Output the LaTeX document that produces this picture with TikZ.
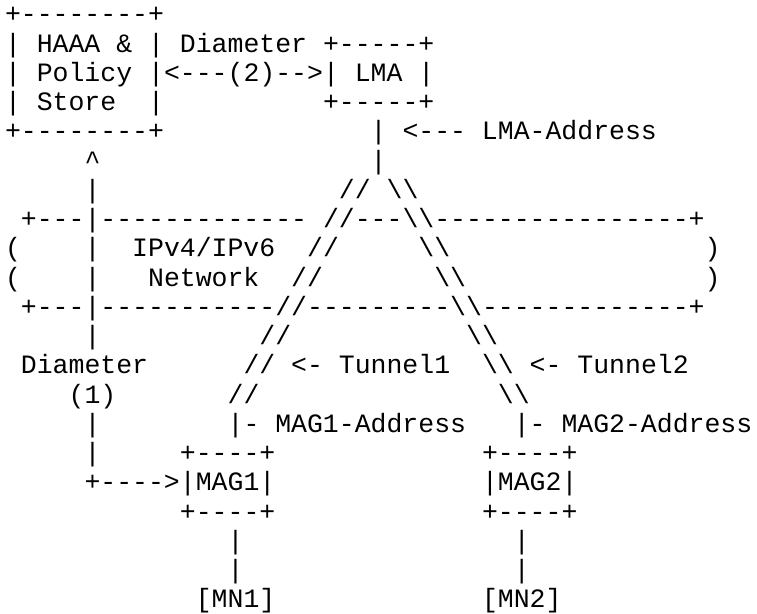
\documentclass[tikz,border=0pt]{standalone}
\usepackage{fontspec}
\setmonofont{Liberation Mono}
\tikzset{cell/.style={anchor=base west,inner sep=0pt,outer sep=0pt,
  font=\ttfamily\fontsize{26.5}{29.25}\selectfont}}

\begin{document}
\begin{tikzpicture}[x=15.9pt,y=-29.25pt]
\useasboundingbox (-0.3145,-0.7863) rectangle (47.296,20.205);

% HAAA & Policy Store
\node[cell] (haaatop) at (0,0) {+--------+};
\node[cell] (haaa) at (0,1) {| HAAA \& |};
\node[cell] (policy) at (0,2) {| Policy |};
\node[cell] (store) at (0,3) {| Store};
\node[cell] (storeedge) at (9,3) {|};
\node[cell] (haaabot) at (0,4) {+--------+};

% LMA and Diameter (2)
\node[cell] (diam2) at (11,1) {Diameter};
\node[cell] (lmatop) at (20,1) {+-----+};
\node[cell] (link2) at (10,2) {<---(2)-->};
\node[cell] (lma) at (20,2) {| LMA |};
\node[cell] (lmabot) at (20,3) {+-----+};
\node[cell] (lmaaddr) at (23,4) {| <--- LMA-Address};
\node[cell] (lmastem) at (23,5) {|};

% IPv4/IPv6 network
\node[cell] (nettopa) at (1,7) {+---};
\node[cell] (nettopb) at (6,7) {-------------};
\node[cell] (nettopc) at (22,7) {---};
\node[cell] (nettopd) at (27,7) {----------------+};
\node[cell] (netl1) at (0,8) {(};
\node[cell] (netl2) at (0,9) {(};
\node[cell] (netr1) at (44,8) {)};
\node[cell] (netr2) at (44,9) {)};
\node[cell] (ipv) at (8,8) {IPv4/IPv6};
\node[cell] (network) at (9,9) {Network};
\node[cell] (netbota) at (1,10) {+---};
\node[cell] (netbotb) at (6,10) {-----------};
\node[cell] (netbotc) at (19,10) {---------};
\node[cell] (netbotd) at (30,10) {-------------+};

% tunnels
\foreach \r in {6,...,13} {
  \node[cell] (tuna\r) at (27-\r,\r) {//};
  \node[cell] (tunb\r) at (18+\r,\r) {\textbackslash\textbackslash};
}
\node[cell] (tun1) at (18,12) {<- Tunnel1};
\node[cell] (tun2) at (33,12) {<- Tunnel2};

% Diameter (1)
\node[cell] (arrup) at (5,5) {\textasciicircum};
\foreach \r in {6,...,11,14,15}
  \node[cell] (bar\r) at (5,\r) {|};
\node[cell] (diam1) at (1,12) {Diameter};
\node[cell] (link1) at (4,13) {(1)};
\node[cell] (arrmag) at (5,16) {+---->};

% MAG1 and MAG2
\node[cell] (mag1addr) at (14,14) {|- MAG1-Address};
\node[cell] (mag2addr) at (32,14) {|- MAG2-Address};
\node[cell] (mag1top) at (11,15) {+----+};
\node[cell] (mag2top) at (30,15) {+----+};
\node[cell] (mag1) at (11,16) {|MAG1|};
\node[cell] (mag2) at (30,16) {|MAG2|};
\node[cell] (mag1bot) at (11,17) {+----+};
\node[cell] (mag2bot) at (30,17) {+----+};
\foreach \r in {18,19} {
  \node[cell] (mna\r) at (14,\r) {|};
  \node[cell] (mnb\r) at (32,\r) {|};
}
\node[cell] (mn1) at (12,20) {[MN1]};
\node[cell] (mn2) at (30,20) {[MN2]};

\end{tikzpicture}
\end{document}
